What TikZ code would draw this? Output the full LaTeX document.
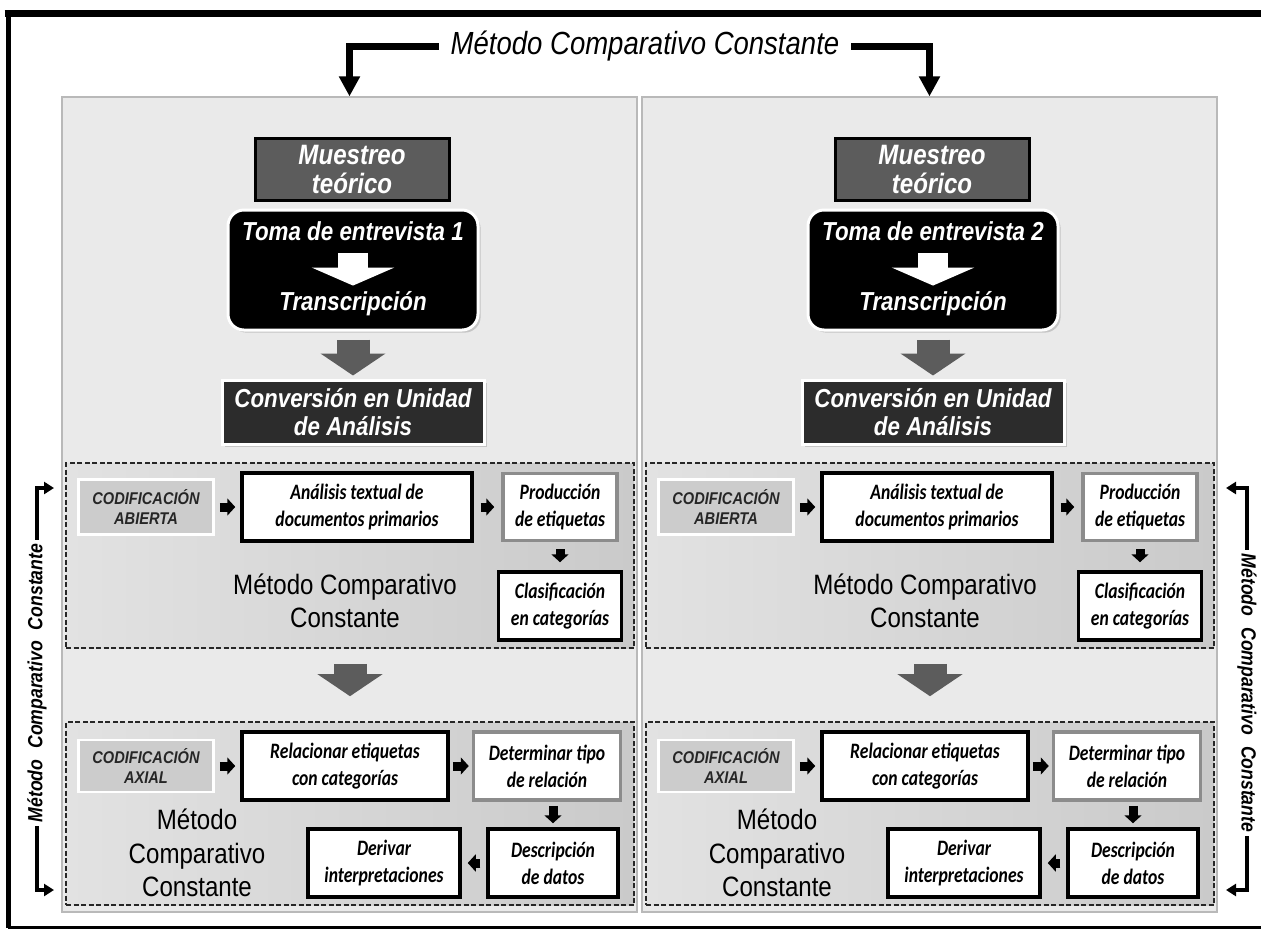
\documentclass[tikz,border=0pt]{standalone}
\usepackage{fontspec}
\setmainfont{Liberation Sans}
\newfontfamily\narrowfont{Liberation Sans}[FakeStretch=0.86]
\newfontfamily\calibrifont{Carlito}[FakeStretch=0.8]
\usetikzlibrary{arrows.meta, positioning, shadows}
\definecolor{panelgray}{RGB}{234,234,234}
\definecolor{muestgray}{RGB}{92,92,92}
\definecolor{convgray}{RGB}{44,44,44}
\definecolor{codgray}{RGB}{204,204,204}
\definecolor{dashleft}{RGB}{226,226,226}
\definecolor{dashright}{RGB}{202,202,202}
\definecolor{arrowgray}{RGB}{92,92,92}
\definecolor{edgegray}{RGB}{140,140,140}

\begin{document}
\begin{tikzpicture}[x=1pt, y=-1pt,
  panel/.style={draw=gray!55, fill=panelgray, line width=1.2pt, minimum width=575pt, minimum height=815pt, inner sep=0pt},
  dashbox/.style={draw=black!85, dash pattern=on 5pt off 2.5pt, line width=1.6pt, left color=dashleft, right color=dashright, minimum width=568pt, inner sep=0pt},
  whitetext/.style={text=white, font=\narrowfont\fontsize{26}{28}\selectfont\bfseries\itshape, align=center, inner sep=0pt},
  mustbox/.style={whitetext, font=\narrowfont\fontsize{28}{29}\selectfont\bfseries\itshape, draw=black, line width=3pt, fill=muestgray, minimum width=194pt, minimum height=62pt},
  tomabox/.style={draw=white, line width=3pt, fill=black, rounded corners=16pt, minimum width=250pt, minimum height=120pt, drop shadow={opacity=0.35}},
  convbox/.style={whitetext, draw=white, line width=3pt, fill=convgray, minimum width=262pt, minimum height=64pt, drop shadow={opacity=0.35}},
  codbox/.style={draw=white, line width=2.5pt, fill=codgray, minimum width=135pt, align=center, text=black!85, font=\narrowfont\fontsize{17}{20}\selectfont\bfseries\itshape},
  stepbox/.style={draw=black, line width=3.5pt, fill=white, align=center, font=\calibrifont\fontsize{22}{27}\selectfont\bfseries\itshape},
  softbox/.style={stepbox, draw=edgegray, line width=3.5pt},
  mcctext/.style={align=center, font=\narrowfont\fontsize{28}{33}\selectfont},
  blkarrow/.style={line width=9pt, -{Triangle[length=8pt, width=17pt]}, shorten <=5pt, shorten >=5pt},
  grayarrow/.style={draw=arrowgray, line width=33pt, -{Triangle[length=22pt, width=64pt]}},
  whitearrow/.style={draw=white, line width=30pt, -{Triangle[length=18pt, width=82pt]}},
  titlearrow/.style={line width=7pt, -{Triangle[length=20pt, width=20pt]}},
  sidearrow/.style={line width=3.5pt, -{Triangle[length=10pt, width=12pt]}},
  sidetext/.style={inner sep=4pt, font=\narrowfont\fontsize{20.5}{24}\selectfont\bfseries\itshape}
]
  \useasboundingbox (0,0) rectangle (1261,930);

  % Outer frame
  \draw[line width=7pt] (4.5,13) -- (1261,13);
  \draw[line width=5pt] (8,10) -- (8,928);
  \draw[line width=3pt] (8,927) -- (1261,927);

  % Title
  \node[font=\narrowfont\fontsize{32}{36}\selectfont\itshape, inner xsep=12pt] (title) at (645,46) {Método Comparativo Constante};

  % Two interview panels
  \foreach \k/\dx in {1/0, 2/580} {
    \begin{scope}[xshift=\dx pt]
      \node[panel] (panel\k) at (349.5,504.5) {};

      \node[mustbox] (must\k) at (352,169) {Muestreo\\teórico};
      \node[tomabox] (toma\k) at (353,270) {};
      \node[whitetext] (interview\k) at (353,231) {Toma de entrevista \k};
      \node[whitetext] (transc\k) at (353,304) {Transcripción};
      \draw[whitearrow, shorten <=12pt, shorten >=6pt] (interview\k) -- (transc\k);
      \node[convbox] (conv\k) at (353,412) {Conversión en Unidad\\de Análisis};
      \draw[grayarrow, shorten <=8pt, shorten >=3pt] (toma\k) -- (conv\k);

      % Open coding
      \node[dashbox, minimum height=185pt] (open\k) at (350,555.5) {};
      \node[codbox, minimum height=55pt] (codopen\k) at (146,507) {CODIFICACIÓN\\ABIERTA};
      \node[stepbox, minimum width=230pt, minimum height=68pt] (textual\k) at (357,507) {Análisis textual de\\documentos primarios};
      \node[softbox, minimum width=114pt, minimum height=67pt] (labels\k) at (560,507) {Producción\\de etiquetas};
      \node[stepbox, minimum width=123pt, minimum height=68pt] (classif\k) at (560,606) {Clasificación\\en categorías};
      \node[mcctext] (mccopen\k) at (345,601) {Método Comparativo\\Constante};
      \draw[blkarrow] (codopen\k) -- (textual\k);
      \draw[blkarrow, shorten <=7pt, shorten >=7pt] (textual\k) -- (labels\k);
      \draw[blkarrow, shorten <=7pt, shorten >=8pt] (labels\k) -- (classif\k);

      % Axial coding
      \node[dashbox, minimum height=183pt] (axial\k) at (350,813.5) {};
      \draw[grayarrow, shorten <=15pt, shorten >=25pt] (open\k) -- (axial\k);
      \node[codbox, minimum height=52pt] (codaxial\k) at (146,766) {CODIFICACIÓN\\AXIAL};
      \node[stepbox, minimum width=206pt, minimum height=68pt] (relate\k) at (345,766) {Relacionar etiquetas\\con categorías};
      \node[softbox, minimum width=147pt, minimum height=68pt] (reltype\k) at (547,766) {Determinar tipo\\de relación};
      \node[stepbox, minimum width=130pt, minimum height=68pt] (describe\k) at (553,863) {Descripción\\de datos};
      \node[stepbox, minimum width=152pt, minimum height=68pt] (derive\k) at (384,863) {Derivar\\interpretaciones};
      \node[mcctext, font=\narrowfont\fontsize{28}{33.5}\selectfont] (mccaxial\k) at (197,853) {Método\\Comparativo\\Constante};
      \draw[blkarrow] (codaxial\k) -- (relate\k);
      \draw[blkarrow, shorten <=3pt, shorten >=3pt] (relate\k) -- (reltype\k);
      \draw[blkarrow, shorten <=4pt, shorten >=4pt] (reltype\k.south -| describe\k) -- (describe\k);
      \draw[blkarrow, shorten <=6pt, shorten >=6pt] (describe\k) -- (derive\k);
    \end{scope}
  }

  % Title arrows
  \draw[titlearrow] (title.west) -| (panel1.north);
  \draw[titlearrow] (title.east) -| (panel2.north);

  % Side brackets
  \node[sidetext, rotate=90] (sideL) at (37,683) {Método\hspace{6pt} Comparativo\hspace{6pt} Constante};
  \node[sidetext, rotate=-90] (sideR) at (1247,693) {Método\hspace{6pt} Comparativo\hspace{6pt} Constante};
  \coordinate (tipL1) at (54,488);
  \coordinate (tipL2) at (54,890);
  \coordinate (tipR1) at (1226,488);
  \coordinate (tipR2) at (1226,890);
  \draw[sidearrow] (sideL.east) |- (tipL1);
  \draw[sidearrow] (sideL.west) |- (tipL2);
  \draw[sidearrow] (sideR.west) |- (tipR1);
  \draw[sidearrow] (sideR.east) |- (tipR2);
\end{tikzpicture}
\end{document}
